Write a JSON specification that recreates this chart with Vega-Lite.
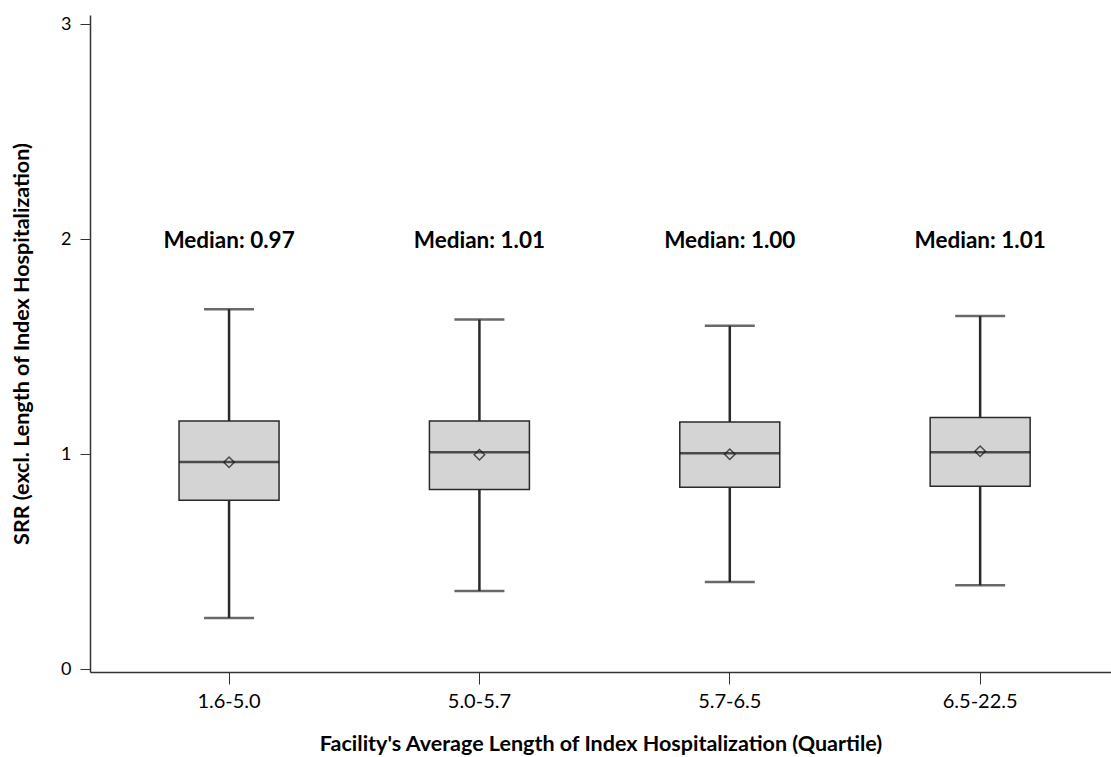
{
  "$schema": "https://vega.github.io/schema/vega-lite/v6.json",
  "autosize": "none",
  "width": 1021,
  "height": 657,
  "padding": {"left": 90, "top": 15, "right": 0, "bottom": 85},
  "background": "white",
  "config": {
    "view": {"stroke": null},
    "font": "Lato"
  },
  "data": {
    "values": [
      {"quartile": "1.6-5.0", "lower": 0.239, "q1": 0.786, "median": 0.964, "q3": 1.155, "upper": 1.674, "mean": 0.963, "label": "Median: 0.97", "labelY": 1.99},
      {"quartile": "5.0-5.7", "lower": 0.364, "q1": 0.836, "median": 1.009, "q3": 1.155, "upper": 1.626, "mean": 0.998, "label": "Median: 1.01", "labelY": 1.99},
      {"quartile": "5.7-6.5", "lower": 0.406, "q1": 0.847, "median": 1.005, "q3": 1.150, "upper": 1.597, "mean": 1.0, "label": "Median: 1.00", "labelY": 1.99},
      {"quartile": "6.5-22.5", "lower": 0.391, "q1": 0.851, "median": 1.009, "q3": 1.171, "upper": 1.643, "mean": 1.014, "label": "Median: 1.01", "labelY": 1.99}
    ]
  },
  "encoding": {
    "x": {
      "field": "quartile",
      "type": "nominal",
      "sort": null,
      "scale": {"paddingInner": 0, "paddingOuter": 0.039, "align": 0.71},
      "axis": {
        "title": "Facility's Average Length of Index Hospitalization (Quartile)",
        "titleFont": "Lato",
        "titleFontSize": 21.5,
        "titleFontWeight": "bold",
        "titleColor": "#000000",
        "titlePadding": 22,
        "labelAngle": 0,
        "labelFont": "Lato",
        "labelFontSize": 20,
        "labelColor": "#000000",
        "labelPadding": 7,
        "tickSize": 12,
        "tickColor": "#333333",
        "domainColor": "#333333",
        "domainWidth": 1.5,
        "grid": false
      }
    }
  },
  "layer": [
    {
      "mark": {"type": "rule", "color": "#2a2a2a", "strokeWidth": 2.5},
      "encoding": {
        "y": {
          "field": "lower",
          "type": "quantitative",
          "scale": {"domain": [-0.012, 3.042], "nice": false, "zero": false},
          "axis": {
            "title": "SRR (excl. Length of Index Hospitalization)",
            "titleFont": "Lato",
            "titleFontSize": 21.5,
            "titleFontWeight": "bold",
            "titleColor": "#000000",
            "titlePadding": 27,
            "values": [0, 1, 2, 3],
            "format": "d",
            "labelFont": "Lato",
            "labelFontSize": 18,
            "labelColor": "#000000",
            "labelPadding": 9,
            "tickSize": 10,
            "tickColor": "#333333",
            "domainColor": "#333333",
            "domainWidth": 1.5,
            "grid": false
          }
        },
        "y2": {"field": "upper"}
      }
    },
    {
      "mark": {"type": "tick", "color": "#2a2a2a", "size": 50, "thickness": 2.5},
      "encoding": {"y": {"field": "lower", "type": "quantitative"}}
    },
    {
      "mark": {"type": "tick", "color": "#2a2a2a", "size": 50, "thickness": 2.5},
      "encoding": {"y": {"field": "upper", "type": "quantitative"}}
    },
    {
      "mark": {"type": "bar", "size": 100, "fill": "#d4d4d4", "stroke": "#2a2a2a", "strokeWidth": 1.5},
      "encoding": {
        "y": {"field": "q1", "type": "quantitative"},
        "y2": {"field": "q3"}
      }
    },
    {
      "mark": {"type": "tick", "color": "#111111", "size": 100, "thickness": 2.5},
      "encoding": {"y": {"field": "median", "type": "quantitative"}}
    },
    {
      "mark": {"type": "point", "shape": "diamond", "filled": false, "size": 110, "stroke": "#111111", "strokeWidth": 1.5},
      "encoding": {"y": {"field": "mean", "type": "quantitative"}}
    },
    {
      "mark": {"type": "text", "font": "Lato", "fontSize": 22.5, "fontWeight": "bold", "color": "#000000", "baseline": "middle", "align": "center"},
      "encoding": {
        "y": {"field": "labelY", "type": "quantitative"},
        "text": {"field": "label"}
      }
    }
  ]
}
